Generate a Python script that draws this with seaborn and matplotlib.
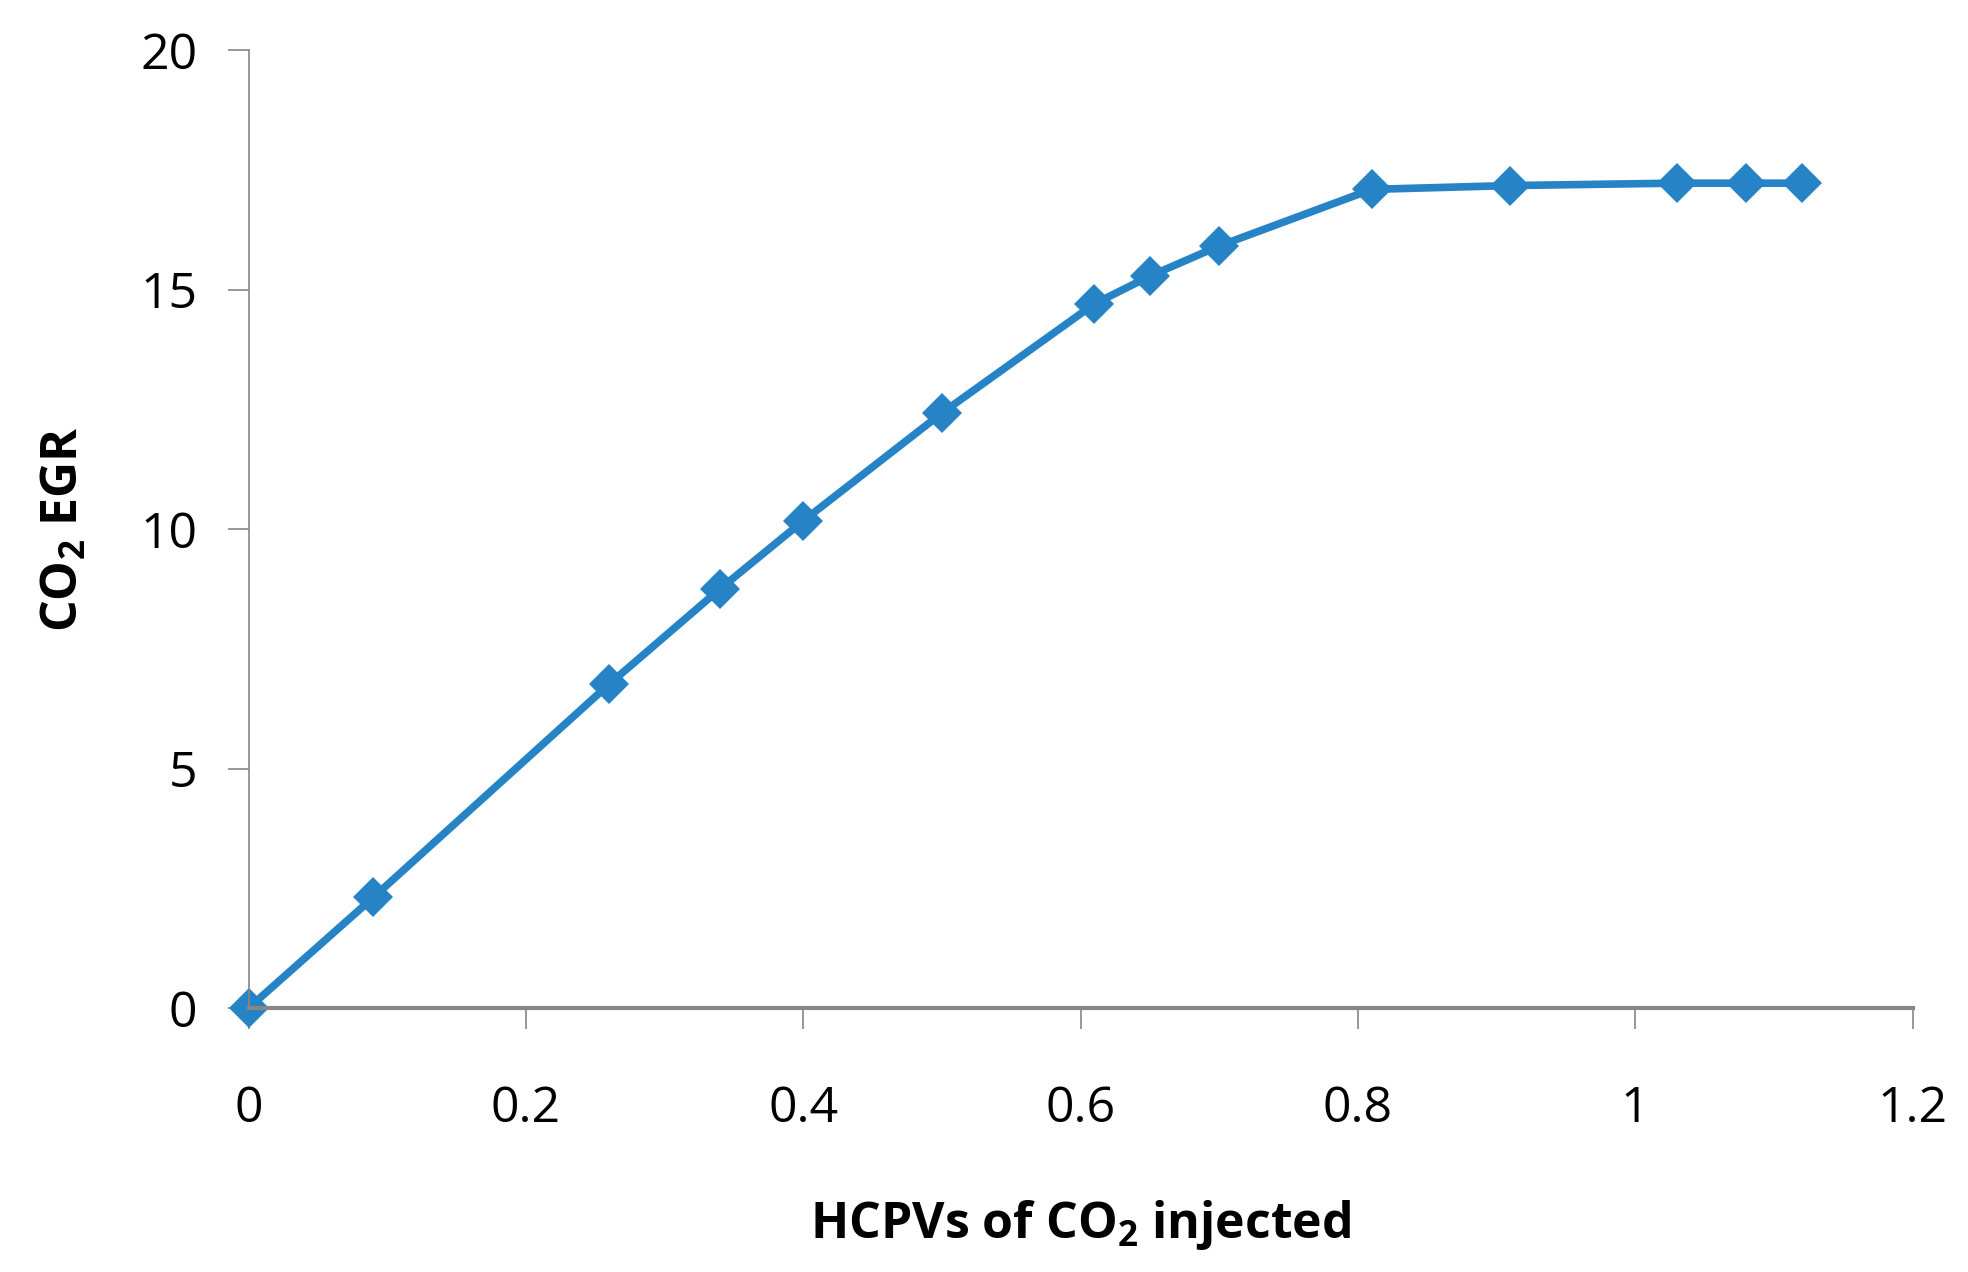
import numpy as np
import pandas as pd
import matplotlib
matplotlib.use('Agg')
import matplotlib.pyplot as plt
import seaborn as sns

# values
hcpv = [0.0, 0.09, 0.26, 0.34, 0.40, 0.50, 0.61, 0.65, 0.70, 0.81, 0.91, 1.03, 1.08, 1.12]
egr = [0.0, 2.31, 6.76, 8.75, 10.17, 12.42, 14.70, 15.28, 15.91, 17.09, 17.17, 17.22, 17.22, 17.22]
xticks = [0, 0.2, 0.4, 0.6, 0.8, 1, 1.2]
xtick_labels = ['0', '0.2', '0.4', '0.6', '0.8', '1', '1.2']
yticks = [0, 5, 10, 15, 20]

sns.set_style('white')
plt.rcParams['font.family'] = ['Open Sans', 'DejaVu Sans']
plt.rcParams['mathtext.fontset'] = 'custom'
plt.rcParams['mathtext.rm'] = 'Open Sans'
plt.rcParams['mathtext.bf'] = 'Open Sans:bold'
plt.rcParams['text.color'] = 'black'
plt.rcParams['axes.labelcolor'] = 'black'
plt.rcParams['xtick.color'] = 'black'
plt.rcParams['ytick.color'] = 'black'

df = pd.DataFrame({'hcpv': hcpv, 'egr': egr})

fig = plt.figure(figsize=(19.68, 12.72), dpi=100)
ax = fig.add_axes([0.1263, 0.2075, 0.8455, 0.7532])

blue = '#2683C6'
sns.lineplot(data=df, x='hcpv', y='egr', ax=ax, color=blue, linewidth=5.5,
             marker='D', markersize=20, markeredgewidth=0, clip_on=False)

ax.set_xlim(0, 1.2)
ax.set_ylim(0, 20)
ax.set_xticks(xticks)
ax.set_xticklabels(xtick_labels)
ax.set_yticks(yticks)

gray = '#868686'
for s in ['top', 'right']:
    ax.spines[s].set_visible(False)
ax.spines['left'].set_color(gray)
ax.spines['left'].set_linewidth(1.2)
ax.spines['bottom'].set_color(gray)
ax.spines['bottom'].set_linewidth(3)

ax.tick_params(axis='x', direction='out', length=15, width=1.2, color=gray,
               pad=40, labelsize=36, labelcolor='black', bottom=True)
ax.tick_params(axis='y', direction='out', length=15, width=1.2, color=gray,
               pad=22, labelsize=36, labelcolor='black', left=True)

ax.set_xlabel(r'HCPVs of CO$_\mathbf{2}$ injected', fontsize=36, fontweight='bold',
              labelpad=46)
ax.set_ylabel(r'CO$_\mathbf{2}$ EGR', fontsize=36, fontweight='bold', labelpad=36)

fig.savefig('out.png', dpi=100)
